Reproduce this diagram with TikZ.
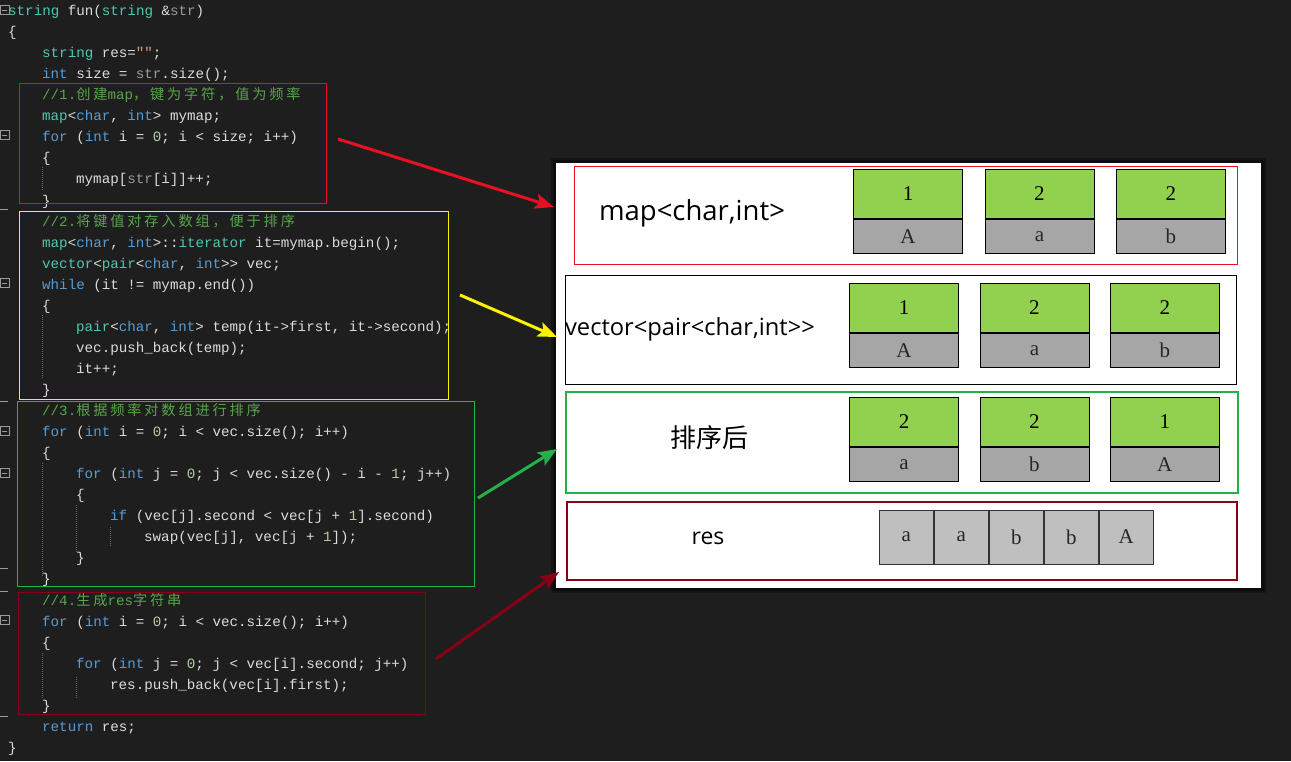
\documentclass[tikz,border=0pt]{standalone}
\usepackage{fontspec}
\newfontfamily\codefont{Liberation Mono}
\newfontfamily\cellfont{Liberation Serif}
\newfontfamily\cjkfont[LetterSpace=20]{Noto Sans CJK SC}
\newfontfamily\labelfont{Open Sans}
\newfontfamily\cjklabelfont{Noto Sans CJK SC}
\usetikzlibrary{arrows,arrows.meta,positioning}

\definecolor{editorbg}{HTML}{1E1E1E}
\definecolor{plaintext}{HTML}{DCDCDC}
\definecolor{kwblue}{HTML}{569CD6}
\definecolor{tyteal}{HTML}{4EC9B0}
\definecolor{numgreen}{HTML}{B5CEA8}
\definecolor{cmtgreen}{HTML}{57A64A}
\definecolor{prmgray}{HTML}{9B9B9B}
\definecolor{strorange}{HTML}{D69D85}
\definecolor{guidegray}{HTML}{6A6A6A}
\definecolor{boxred}{HTML}{E81123}
\definecolor{boxyellow}{HTML}{FFF200}
\definecolor{boxgreen}{HTML}{22B14C}
\definecolor{boxdarkred}{HTML}{880015}
\definecolor{cellgreen}{HTML}{92D050}
\definecolor{cellgray}{HTML}{A6A6A6}
\definecolor{resgray}{HTML}{BFBFBF}

\newcommand\kw[1]{\textcolor{kwblue}{#1}}
\newcommand\ty[1]{\textcolor{tyteal}{#1}}
\newcommand\cnum[1]{\textcolor{numgreen}{#1}}
\newcommand\cmt[1]{\textcolor{cmtgreen}{#1}}
\newcommand\prm[1]{\textcolor{prmgray}{#1}}
\newcommand\cstr[1]{\textcolor{strorange}{#1}}

\tikzset{
  codeline/.style={anchor=base west, inner sep=0pt, text=plaintext,
    font=\codefont\fontsize{14.2pt}{17pt}\selectfont},
  guide/.style={guidegray, densely dotted, line width=1pt},
  gutter/.style={draw=prmgray, line width=0.8pt},
  valcell/.style={draw=black, fill=cellgreen, minimum width=109, minimum height=50,
    inner sep=0pt, font=\cellfont\fontsize{21pt}{23pt}\selectfont},
  keycell/.style={draw=black, fill=cellgray, minimum width=109, minimum height=34,
    inner sep=0pt, text=black!85, font=\cellfont\fontsize{21pt}{23pt}\selectfont},
  rescell/.style={draw=black!80, fill=resgray, minimum width=54.6, minimum height=54,
    inner sep=0pt, text=black!85, font=\cellfont\fontsize{21pt}{23pt}\selectfont},
  sepline/.style={line width=2.5pt},
  rowlabel/.style={inner sep=0pt, font=\labelfont\fontsize{27.5pt}{32pt}\selectfont},
  bigarrow/.style={line width=3pt, -{Stealth[length=19pt, width=15pt, inset=4pt]}}
}

\begin{document}
\begin{tikzpicture}[x=1pt, y=-1pt]

    \fill[editorbg] (0,0) rectangle (1291,761);
    \useasboundingbox (0,0) rectangle (1291,761);

    % gutter marks
    \foreach \c in {10,135,283,431,473,620} {
      \draw[gutter] (0,\c-4.5) rectangle (9,\c+4.5);
      \draw[gutter] (2,\c) -- (7,\c);
    }
    \foreach \c in {209,401,568,591,716}
      \draw[gutter] (0,\c) -- (8,\c);

    % indent guides
    \draw[guide] (42,167) -- (42,190);
    \draw[guide] (42,315) -- (42,378);
    \draw[guide] (42,463) -- (42,577);
    \draw[guide] (76,505) -- (76,553);
    \draw[guide] (110,527) -- (110,547);
    \draw[guide] (42,653) -- (42,698);
    \draw[guide] (76,677) -- (76,698);

    % code
    \node[codeline] (l1)  at (8,15)   {\ty{string} fun(\ty{string} \&\prm{str})};
    \node[codeline] (l2)  at (8,36)   {\{};
    \node[codeline] (l3)  at (42,57)  {\ty{string} res=\cstr{""};};
    \node[codeline] (l4)  at (42,78)  {\kw{int} size = \prm{str}.size();};
    \node[codeline] (l5)  at (42,99)  {\cmt{//1.{\cjkfont 创建}map{\cjkfont ，键为字符，值为频率}}};
    \node[codeline] (l6)  at (42,120) {\ty{map}<\kw{char}, \kw{int}> mymap;};
    \node[codeline] (l7)  at (42,141) {\kw{for} (\kw{int} i = \cnum{0}; i < size; i++)};
    \node[codeline] (l8)  at (42,162) {\{};
    \node[codeline] (l9)  at (76,183) {mymap[\prm{str}[i]]++;};
    \node[codeline] (l10) at (42,205) {\}};
    \node[codeline] (l11) at (42,226) {\cmt{//2.{\cjkfont 将键值对存入数组，便于排序}}};
    \node[codeline] (l12) at (42,247) {\ty{map}<\kw{char}, \kw{int}>::\ty{iterator} it=mymap.begin();};
    \node[codeline] (l13) at (42,268) {\ty{vector}<\ty{pair}<\kw{char}, \kw{int}>> vec;};
    \node[codeline] (l14) at (42,289) {\kw{while} (it != mymap.end())};
    \node[codeline] (l15) at (42,310) {\{};
    \node[codeline] (l16) at (76,331) {\ty{pair}<\kw{char}, \kw{int}> temp(it->first, it->second);};
    \node[codeline] (l17) at (76,352) {vec.push\_back(temp);};
    \node[codeline] (l18) at (76,373) {it++;};
    \node[codeline] (l19) at (42,394) {\}};
    \node[codeline] (l20) at (42,415) {\cmt{//3.{\cjkfont 根据频率对数组进行排序}}};
    \node[codeline] (l21) at (42,436) {\kw{for} (\kw{int} i = \cnum{0}; i < vec.size(); i++)};
    \node[codeline] (l22) at (42,457) {\{};
    \node[codeline] (l23) at (76,478) {\kw{for} (\kw{int} j = \cnum{0}; j < vec.size() - i - \cnum{1}; j++)};
    \node[codeline] (l24) at (76,499) {\{};
    \node[codeline] (l25) at (110,520) {\kw{if} (vec[j].second < vec[j + \cnum{1}].second)};
    \node[codeline] (l26) at (144,541) {swap(vec[j], vec[j + \cnum{1}]);};
    \node[codeline] (l27) at (76,562) {\}};
    \node[codeline] (l28) at (42,583) {\}};
    \node[codeline] (l29) at (42,605) {\cmt{//4.{\cjkfont 生成}res{\cjkfont 字符串}}};
    \node[codeline] (l30) at (42,626) {\kw{for} (\kw{int} i = \cnum{0}; i < vec.size(); i++)};
    \node[codeline] (l31) at (42,647) {\{};
    \node[codeline] (l32) at (76,668) {\kw{for} (\kw{int} j = \cnum{0}; j < vec[i].second; j++)};
    \node[codeline] (l33) at (110,689) {res.push\_back(vec[i].first);};
    \node[codeline] (l34) at (42,710) {\}};
    \node[codeline] (l35) at (42,731) {\kw{return} res;};
    \node[codeline] (l36) at (8,752)  {\}};

    % code blocks
    \draw[boxred, line width=1pt] (19,83) rectangle (326,203);
    \draw[boxyellow, line width=1pt] (19,211) rectangle (448,399);
    \draw[boxgreen, line width=1pt] (17,401) rectangle (474,586);
    \draw[boxdarkred, line width=1pt] (18,592) rectangle (425,714);

    % panel
    \fill[black, opacity=0.3] (551,158) rectangle (1266,593);
    \fill[black, opacity=0.3] (553,160) rectangle (1264,591);
    \fill[white] (556,163) rectangle (1261,588);

    \draw[boxred, line width=1pt] (574,166) rectangle (1237,264);
    \draw[black, line width=1pt] (565,275) rectangle (1236,384);
    \draw[boxgreen, line width=2pt] (566,392) rectangle (1238,493);
    \draw[boxdarkred, line width=2pt] (567,502) rectangle (1237,580);

    \node[rowlabel] (maplabel) at (692,213) {map<char,int>};
    \node[rowlabel, font=\labelfont\fontsize{23.7pt}{28pt}\selectfont] (veclabel) at (690,329) {vector<pair<char,int>>};
    \node[rowlabel, font=\cjklabelfont\fontsize{26pt}{30pt}\selectfont] (sortlabel) at (709,438) {排序后};
    \node[rowlabel, font=\labelfont\fontsize{23pt}{28pt}\selectfont] (reslabel) at (708,538) {res};

    % map row
    \node[valcell] (m1v) at (908,194) {1};
    \node[keycell, below=0pt of m1v] (m1k) {A};
    \node[valcell, right=22 of m1v] (m2v) {2};
    \node[keycell, below=0pt of m2v] (m2k) {a};
    \node[valcell, right=22 of m2v] (m3v) {2};
    \node[keycell, below=0pt of m3v] (m3k) {b};

    % vector row
    \node[valcell] (v1v) at (904,308) {1};
    \node[keycell, below=0pt of v1v] (v1k) {A};
    \node[valcell, right=21 of v1v] (v2v) {2};
    \node[keycell, below=0pt of v2v] (v2k) {a};
    \node[valcell, right=21 of v2v] (v3v) {2};
    \node[keycell, below=0pt of v3v] (v3k) {b};

    % sorted row
    \node[valcell] (s1v) at (904,422) {2};
    \node[keycell, below=0pt of s1v] (s1k) {a};
    \node[valcell, right=21 of s1v] (s2v) {2};
    \node[keycell, below=0pt of s2v] (s2k) {b};
    \node[valcell, right=21 of s2v] (s3v) {1};
    \node[keycell, below=0pt of s3v] (s3k) {A};

    \foreach \n in {m1v,m2v,m3v,v1v,v2v,v3v,s1v,s2v,s3v}
      \draw[sepline] (\n.south west) -- (\n.south east);

    % res row
    \node[rescell] (r1) at (906.3,537) {a};
    \node[rescell, right=0pt of r1] (r2) {a};
    \node[rescell, right=0pt of r2] (r3) {b};
    \node[rescell, right=0pt of r3] (r4) {b};
    \node[rescell, right=0pt of r4] (r5) {A};

    % arrows
    \coordinate (red_from)     at (338,139);
    \coordinate (red_to)       at (554,207);
    \coordinate (yellow_from)  at (460,295);
    \coordinate (yellow_to)    at (557,337);
    \coordinate (green_from)   at (478,498);
    \coordinate (green_to)     at (557,449);
    \coordinate (darkred_from) at (436,659);
    \coordinate (darkred_to)   at (559,572);

    \draw[bigarrow, boxred]     (red_from) -- (red_to);
    \draw[bigarrow, boxyellow]  (yellow_from) -- (yellow_to);
    \draw[bigarrow, boxgreen]   (green_from) -- (green_to);
    \draw[bigarrow, boxdarkred] (darkred_from) -- (darkred_to);

\end{tikzpicture}
\end{document}
